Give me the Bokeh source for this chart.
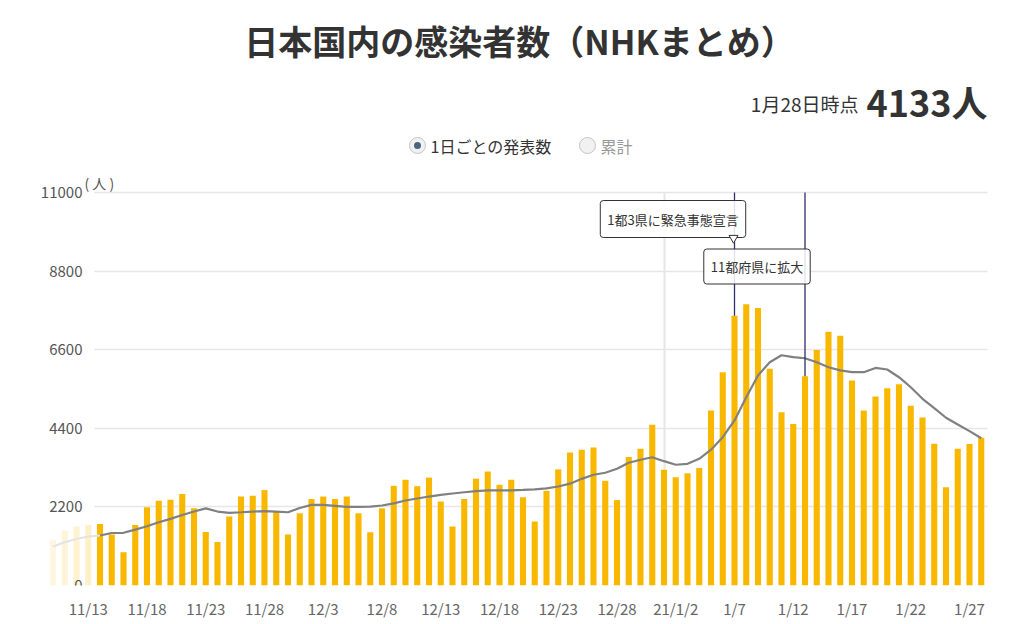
from bokeh.plotting import figure
from bokeh.models import FixedTicker, Label, Range1d
from bokeh.embed import file_html
from bokeh.resources import INLINE

# ---------------- data ----------------
dates = [
    "11/10", "11/11", "11/12", "11/13", "11/14", "11/15", "11/16", "11/17", "11/18", "11/19",
    "11/20", "11/21", "11/22", "11/23", "11/24", "11/25", "11/26", "11/27", "11/28", "11/29",
    "11/30", "12/1", "12/2", "12/3", "12/4", "12/5", "12/6", "12/7", "12/8", "12/9",
    "12/10", "12/11", "12/12", "12/13", "12/14", "12/15", "12/16", "12/17", "12/18", "12/19",
    "12/20", "12/21", "12/22", "12/23", "12/24", "12/25", "12/26", "12/27", "12/28", "12/29",
    "12/30", "12/31", "1/1", "1/2", "1/3", "1/4", "1/5", "1/6", "1/7", "1/8",
    "1/9", "1/10", "1/11", "1/12", "1/13", "1/14", "1/15", "1/16", "1/17", "1/18",
    "1/19", "1/20", "1/21", "1/22", "1/23", "1/24", "1/25", "1/26", "1/27", "1/28",
]
daily = [
    1270, 1530, 1650, 1690, 1720, 1430, 930, 1690, 2190, 2370,
    2400, 2560, 2160, 1500, 1220, 1930, 2490, 2510, 2670, 2060,
    1430, 2020, 2420, 2490, 2420, 2490, 2020, 1490, 2160, 2790,
    2960, 2780, 3020, 2350, 1650, 2420, 2990, 3190, 2820, 2960,
    2470, 1790, 2650, 3250, 3720, 3800, 3860, 2930, 2390, 3600,
    3830, 4500, 3240, 3030, 3140, 3290, 4900, 5970, 7550, 7870,
    7770, 6070, 4850, 4520, 5860, 6590, 7100, 6990, 5740, 4900,
    5290, 5520, 5630, 5030, 4700, 3970, 2750, 3830, 3960, 4133,
]
avg7 = [
    1090, 1210, 1305, 1370, 1400, 1470, 1475, 1565, 1660, 1770,
    1865, 1975, 2070, 2160, 2070, 2035, 2050, 2070, 2080, 2070,
    2050, 2170, 2255, 2255, 2230, 2200, 2200, 2210, 2240, 2300,
    2380, 2435, 2490, 2535, 2575, 2610, 2640, 2660, 2665, 2665,
    2675, 2690, 2720, 2770, 2850, 2985, 3100, 3155, 3270, 3435,
    3520, 3590, 3480, 3380, 3405, 3545, 3800, 4150, 4620, 5270,
    5880, 6250, 6445, 6390, 6360, 6250, 6110, 6020, 5970, 5970,
    6090, 6045, 5830, 5550, 5225, 4965, 4695, 4505, 4320, 4120,
]
tick_dates = ["11/13", "11/18", "11/23", "11/28", "12/3", "12/8", "12/13", "12/18",
              "12/23", "12/28", "1/2", "1/7", "1/12", "1/17", "1/22", "1/27"]
tick_labels = ["11/13", "11/18", "11/23", "11/28", "12/3", "12/8", "12/13", "12/18",
               "12/23", "12/28", "21/1/2", "1/7", "1/12", "1/17", "1/22", "1/27"]
y_ticks = [0, 2200, 4400, 6600, 8800, 11000]
year_start = "1/1"
event_dates = ["1/7", "1/13"]
event_texts = ["1都3県に緊急事態宣言", "11都府県に拡大"]
faded_count = 4

title_text = "日本国内の感染者数（NHKまとめ）"
asof_text = "1月28日時点"
latest_text = "4133人"
legend_texts = ["1日ごとの発表数", "累計"]
unit_text = "( 人 )"

# ---------------- layout helpers (reference pixel -> coords) ----------------
FONT = "Noto Sans CJK JP"
PX_DAY = 11.75          # px per day
X0_PX = 52.5            # px of first date
FR_L, FR_R, FR_T, FR_B = 40, 1000, 8, 585
PX_PER_UNIT = 393 / 11000


def fx(px):
    return (px - X0_PX) / PX_DAY


def fy(py):
    return (FR_B - py) / PX_PER_UNIT


def sx(px):
    return px - FR_L


def sy(py):
    return FR_B - py


idx = list(range(len(dates)))
pos = {d: i for i, d in enumerate(dates)}

p = figure(frame_width=FR_R - FR_L, frame_height=FR_B - FR_T,
           x_range=Range1d(fx(FR_L), fx(FR_R)),
           y_range=Range1d(0, (FR_B - FR_T) / PX_PER_UNIT),
           output_backend="svg", toolbar_location=None,
           min_border_left=FR_L, min_border_right=16, min_border_top=FR_T,
           min_border_bottom=31)
p.outline_line_color = None
p.background_fill_color = "white"
p.border_fill_color = "white"

# axes
p.yaxis.fixed_location = fx(94)
p.yaxis.ticker = FixedTicker(ticks=y_ticks)
p.yaxis.axis_line_color = None
p.yaxis.major_tick_line_color = None
p.yaxis.minor_tick_line_color = None
p.yaxis.major_tick_in = 0
p.yaxis.major_tick_out = 0
p.yaxis.major_label_standoff = 12
p.yaxis.major_label_text_font = FONT
p.yaxis.major_label_text_font_size = "15px"
p.yaxis.major_label_text_color = "#555555"

p.xaxis.ticker = FixedTicker(ticks=[pos[d] for d in tick_dates])
p.xaxis.major_label_overrides = {pos[d]: t for d, t in zip(tick_dates, tick_labels)}
p.xaxis.axis_line_color = None
p.xaxis.major_tick_line_color = None
p.xaxis.minor_tick_line_color = None
p.xaxis.major_tick_in = 0
p.xaxis.major_tick_out = 0
p.xaxis.major_label_standoff = 12
p.xaxis.major_label_text_font = FONT
p.xaxis.major_label_text_font_size = "15px"
p.xaxis.major_label_text_color = "#666666"

p.ygrid.ticker = FixedTicker(ticks=y_ticks)
p.ygrid.grid_line_color = "#e6e6e6"
p.ygrid.grid_line_width = 1.5
p.ygrid.cross_bounds = (fx(94), fx(987))

p.xgrid.ticker = FixedTicker(ticks=[pos[year_start]])
p.xgrid.grid_line_color = "#e6e6e6"
p.xgrid.grid_line_width = 2
p.xgrid.cross_bounds = (0, 11000)

# bars
BAR = "#f8b800"
faded_alpha = [0.12, 0.15, 0.18, 0.21]
p.vbar(x=idx[:faded_count], top=daily[:faded_count], width=0.52,
       fill_color=BAR, fill_alpha=faded_alpha, line_color=None)
p.vbar(x=idx[faded_count:], top=daily[faded_count:], width=0.52,
       fill_color=BAR, line_color=None)

# 7-day average line
p.line(idx[:faded_count + 1], avg7[:faded_count + 1], line_color="#e4e4e4", line_width=2)
p.line(idx[faded_count:], avg7[faded_count:], line_color="#808080", line_width=2.2)

# event lines
ev_x = [pos[d] for d in event_dates]
ev_top = [daily[pos[d]] for d in event_dates]
p.segment(x0=ev_x, y0=ev_top, x1=ev_x, y1=[y_ticks[-1]] * len(ev_x),
          line_color="#2f2f6b", line_width=1.3)

# callouts
callout_pos = [(672.5, 218.5, (7, 9)), (756.5, 266, (7, 8))]
for (cx, cy, pad), txt in zip(callout_pos, event_texts):
    p.add_layout(Label(x=sx(cx), y=sy(cy), x_units="screen", y_units="screen",
                       text=txt, text_align="center", text_baseline="middle",
                       text_font=FONT, text_font_size="13px", text_color="#333333",
                       background_fill_color="#ffffff", background_fill_alpha=0.85,
                       border_line_color="#333333", border_line_width=1,
                       border_radius=3, padding=pad))
ptr = p.scatter([fx(733)], [fy(237.5)], marker="inverted_triangle", size=9,
                fill_color="#ffffff", line_color="#333333", line_width=1)
ptr.level = "overlay"

# texts
p.add_layout(Label(x=sx(519), y=sy(40), x_units="screen", y_units="screen",
                   text=title_text, text_align="center", text_baseline="middle",
                   text_font=FONT, text_font_style="bold", text_font_size="34px",
                   text_color="#333333"))
p.add_layout(Label(x=sx(858), y=sy(103), x_units="screen", y_units="screen",
                   text=asof_text, text_align="right", text_baseline="middle",
                   text_font=FONT, text_font_size="19px", text_color="#333333"))
p.add_layout(Label(x=sx(866), y=sy(100), x_units="screen", y_units="screen",
                   text=latest_text, text_align="left", text_baseline="middle",
                   text_font=FONT, text_font_style="bold", text_font_size="36px",
                   text_color="#333333"))
p.add_layout(Label(x=sx(430), y=sy(145), x_units="screen", y_units="screen",
                   text=legend_texts[0], text_align="left", text_baseline="middle",
                   text_font=FONT, text_font_size="16px", text_color="#333333"))
p.add_layout(Label(x=sx(600), y=sy(145), x_units="screen", y_units="screen",
                   text=legend_texts[1], text_align="left", text_baseline="middle",
                   text_font=FONT, text_font_size="16px", text_color="#999999"))
p.add_layout(Label(x=sx(84), y=sy(182), x_units="screen", y_units="screen",
                   text=unit_text, text_align="left", text_baseline="middle",
                   text_font=FONT, text_font_size="14px", text_color="#555555"))

# radio buttons
p.scatter([fx(417), fx(587)], [fy(145), fy(145)], marker="circle", size=16,
          fill_color="#f1f1f1", line_color="#c4c4c4", line_width=1)
p.scatter([fx(417)], [fy(145)], marker="circle", size=7,
          fill_color="#4a6482", line_color=None)

open("out.html", "w").write(file_html(p, INLINE))
